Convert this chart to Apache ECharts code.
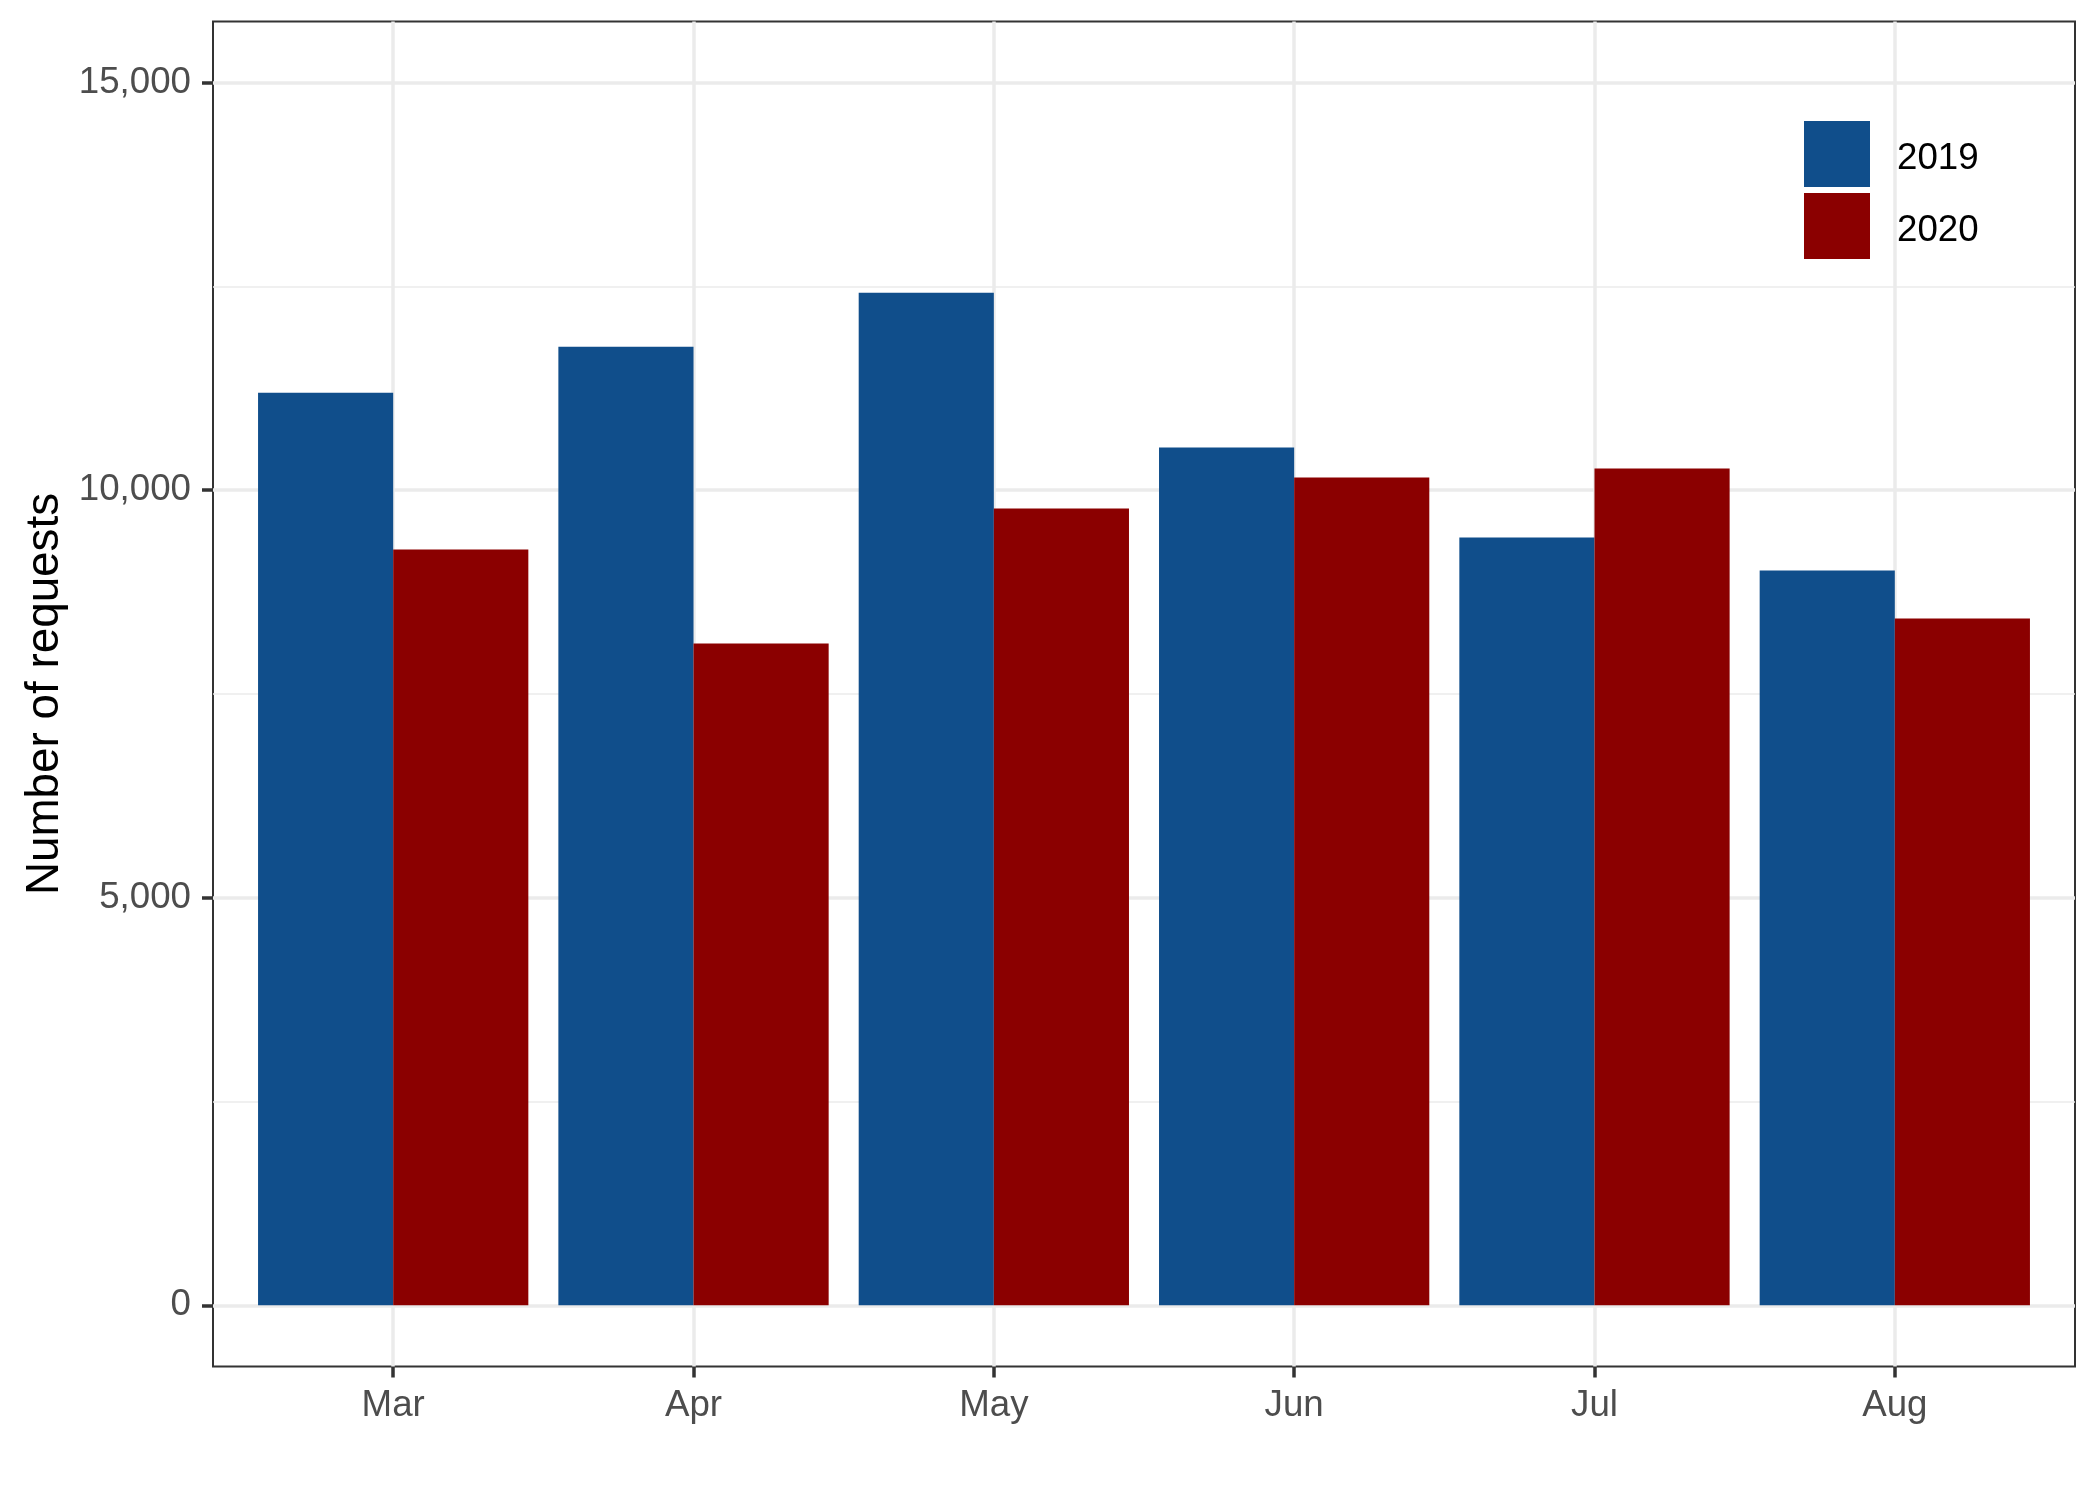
<!DOCTYPE html>
<html>
<head>
<meta charset="utf-8">
<script src="https://cdn.jsdelivr.net/npm/echarts@6/dist/echarts.min.js"></script>
<style>
  html, body { margin: 0; padding: 0; background: #ffffff; }
  #chart { width: 2100px; height: 1500px; }
</style>
</head>
<body>
<div id="chart"></div>
<script>
// ---- data ----
const categories = ['Mar', 'Apr', 'May', 'Jun', 'Jul', 'Aug'];
const seriesNames = ['2019', '2020'];
const values2019 = [11197, 11761, 12422, 10523, 9420, 9016];
const values2020 = [9273, 8121, 9775, 10155, 10266, 8427];
const yTickMin = 0;
const yTickMax = 15000;
const yTickStep = 5000;
const yTitle = 'Number of requests';

// ---- layout ----
const FONT = '"Liberation Sans", Arial, Helvetica, sans-serif';
const panelLeft = 213, panelTop = 21.5, panelWidth = 1862, panelHeight = 1345;
const yExpand = (yTickMax - yTickMin) * 0.05;          // ggplot-style 5% expansion
const yLo = yTickMin - yExpand, yHi = yTickMax + yExpand;
const pxPerVal = panelHeight / (yHi - yLo);
const unit = panelWidth / (categories.length + 0.2);     // discrete expansion 0.6 each side
const colors = ['#104E8B', '#8B0000'];

const chart = echarts.init(document.getElementById('chart'), null, { renderer: 'canvas' });

const option = {
  animation: false,
  backgroundColor: '#ffffff',
  grid: [
    // 0: panel border
    { left: panelLeft, top: panelTop, width: panelWidth, height: panelHeight,
      show: true, borderColor: '#333333', borderWidth: 2, backgroundColor: 'transparent' },
    // 1: y axis labels / horizontal gridlines (0..15000)
    { left: panelLeft, top: panelTop + (yHi - yTickMax) * pxPerVal,
      width: panelWidth, height: (yTickMax - yTickMin) * pxPerVal },
    // 2: bars
    { left: panelLeft + unit * 0.1, top: panelTop, width: unit * categories.length, height: panelHeight }
  ],
  legend: {
    orient: 'vertical',
    left: 1804, top: 121, padding: 0,
    itemWidth: 66, itemHeight: 66, itemGap: 6,
    icon: 'rect',
    selectedMode: false,
    data: seriesNames,
    formatter: name => '{t|' + name + '}',
    textStyle: {
      fontFamily: FONT, fontSize: 36.7, color: '#000000',
      rich: { t: { fontFamily: FONT, fontSize: 36.7, color: '#000000', padding: [10, 0, 0, 22] } }
    }
  },
  xAxis: [
    { gridIndex: 0, type: 'value', show: false, min: 0, max: 1 },
    { gridIndex: 1, type: 'value', show: false, min: 0, max: 1 },
    { gridIndex: 2, type: 'category', data: categories, position: 'bottom',
      axisLine: { show: false, onZero: false },
      axisTick: { show: true, alignWithLabel: true, length: 11, lineStyle: { color: '#333333', width: 3.5 } },
      axisLabel: { fontFamily: FONT, fontSize: 36.7, color: '#4D4D4D', margin: 21 },
      splitLine: { show: false } }
  ],
  yAxis: [
    { gridIndex: 0, type: 'value', show: false, min: 0, max: 1 },
    { gridIndex: 1, type: 'value', min: yTickMin, max: yTickMax, interval: yTickStep,
      axisLine: { show: false },
      axisTick: { show: true, length: 11, lineStyle: { color: '#333333', width: 3.5 } },
      axisLabel: { fontFamily: FONT, fontSize: 36.7, color: '#4D4D4D', margin: 22,
        formatter: v => v.toLocaleString('en-US') },
      splitLine: { show: true, lineStyle: { color: '#EBEBEB', width: 3.5 } },
      minorTick: { show: false, splitNumber: 2 },
      minorSplitLine: { show: true, lineStyle: { color: '#EBEBEB', width: 1.7 } },
      name: yTitle, nameLocation: 'middle', nameGap: 141,
      nameTextStyle: { fontFamily: FONT, fontSize: 45.8, color: '#000000' } },
    { gridIndex: 2, type: 'value', show: false, min: yLo, max: yHi }
  ],
  series: [
    // vertical major gridlines at category centres (drawn beneath the bars)
    { type: 'line', name: '_grid', xAxisIndex: 2, yAxisIndex: 2, data: [], silent: true,
      markLine: {
        z: 1, silent: true, symbol: ['none', 'none'],
        label: { show: false },
        lineStyle: { color: '#EBEBEB', width: 3.5, type: 'solid' },
        data: categories.map(c => ({ xAxis: c }))
      } },
    { type: 'bar', name: seriesNames[0], xAxisIndex: 2, yAxisIndex: 2, data: values2019,
      itemStyle: { color: colors[0] }, barGap: '0%', barCategoryGap: '10%' },
    { type: 'bar', name: seriesNames[1], xAxisIndex: 2, yAxisIndex: 2, data: values2020,
      itemStyle: { color: colors[1] }, barGap: '0%', barCategoryGap: '10%' }
  ]
};
chart.setOption(option);
</script>
</body>
</html>
